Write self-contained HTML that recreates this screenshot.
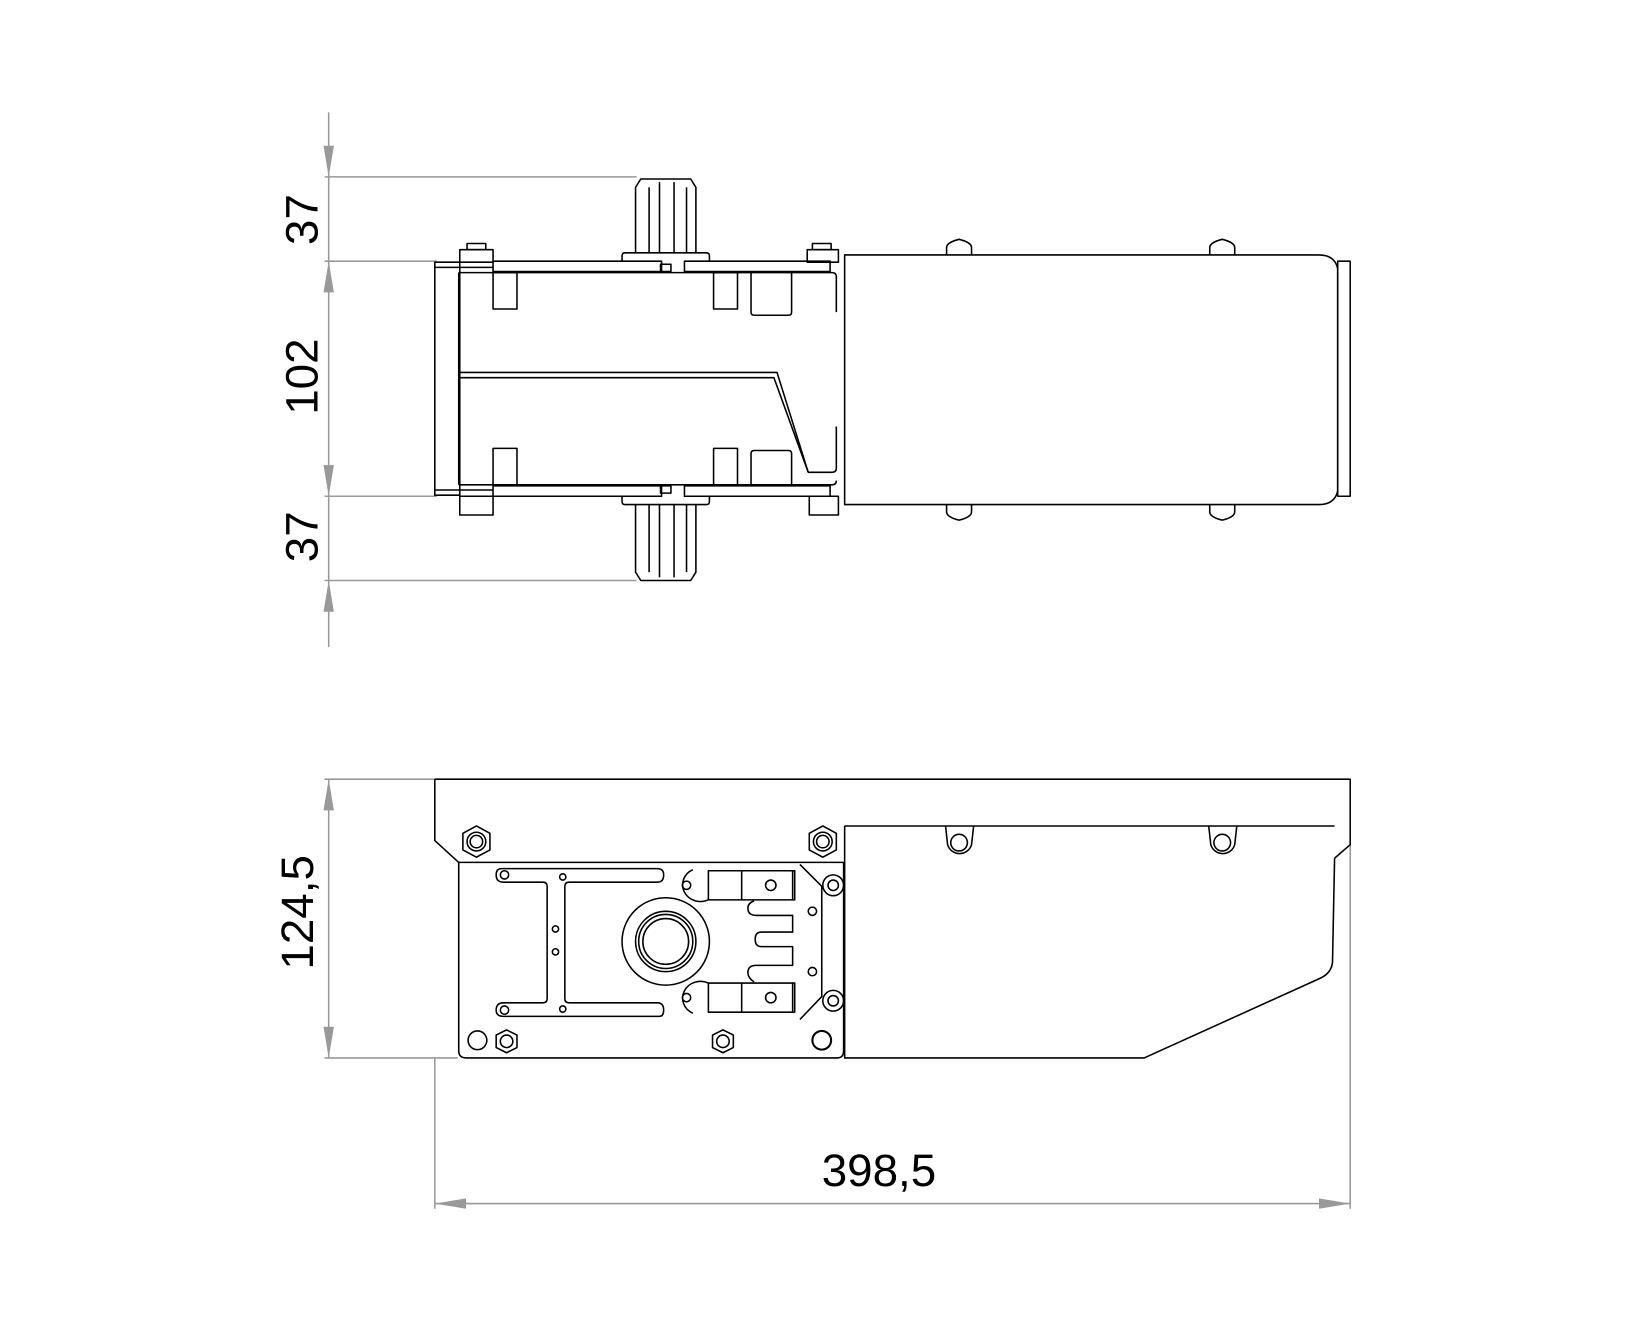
<!DOCTYPE html>
<html><head><meta charset="utf-8"><style>html,body{margin:0;padding:0;background:#fff}svg{display:block}</style></head>
<body>
<svg width="1630" height="1342" viewBox="0 0 1567 1290" xmlns="http://www.w3.org/2000/svg">
<rect width="1567" height="1290" fill="#fff"/>
<!-- DIMENSIONS -->
<g stroke="#999" stroke-width="1.5" fill="none">
  <line x1="316" y1="108" x2="316" y2="622"/>
  <line x1="312" y1="170" x2="612" y2="170"/>
  <line x1="312" y1="251" x2="420" y2="251"/>
  <line x1="312" y1="477" x2="420" y2="477"/>
  <line x1="312" y1="558" x2="612" y2="558"/>
  <line x1="316" y1="749" x2="316" y2="1017"/>
  <line x1="312" y1="749" x2="418" y2="749"/>
  <line x1="312" y1="1017" x2="440" y2="1017"/>
  <line x1="418" y1="1017" x2="418" y2="1162"/>
  <line x1="1298" y1="812" x2="1298" y2="1162"/>
  <line x1="418" y1="1157" x2="1298" y2="1157"/>
</g>
<g fill="#999">
  <polygon points="316,170 311,140 321,140"/>
  <polygon points="316,251 311,281 321,281"/>
  <polygon points="316,477 311,447 321,447"/>
  <polygon points="316,558 311,588 321,588"/>
  <polygon points="316,749 311,779 321,779"/>
  <polygon points="316,1017 311,987 321,987"/>
  <polygon points="418,1157 448,1152 448,1162"/>
  <polygon points="1298,1157 1268,1152 1268,1162"/>
</g>
<g font-family="Liberation Sans, sans-serif" font-size="44" fill="#000" text-anchor="middle">
  <text transform="translate(305,211) rotate(-90)">37</text>
  <text transform="translate(305,362) rotate(-90)">102</text>
  <text transform="translate(305,516) rotate(-90)">37</text>
  <text transform="translate(301,877) rotate(-90)">124,5</text>
  <text x="845" y="1140">398,5</text>
</g>

<!-- TOP VIEW -->
<g stroke="#000" stroke-width="1.5" fill="none" stroke-linejoin="round">
  <rect x="418" y="252" width="24" height="224"/>
  <line x1="418" y1="257" x2="474" y2="257"/>
  <line x1="418" y1="471" x2="474" y2="471"/>
  <path d="M441,262 L800,262 Q804,262 804,266 V300"/>
  <path d="M804,410 V450 Q804,454 800,454 H777 L747,358 H441"/>
  <path d="M441,363 H744 L777,454"/>
  <path d="M441,466 H800 Q804,466 804,462"/>
  <line x1="441" y1="262" x2="441" y2="466"/>
  <rect x="474" y="251" width="162" height="10"/>
  <rect x="658" y="251" width="140" height="10"/>
  <rect x="474" y="467" width="162" height="10"/>
  <rect x="658" y="467" width="140" height="10"/>
  <rect x="474" y="262" width="23" height="35"/>
  <rect x="686" y="262" width="23" height="35"/>
  <path d="M722,262 V300 Q722,303 725,303 H758 Q761,303 761,300 V262"/>
  <rect x="474" y="431" width="23" height="35"/>
  <rect x="686" y="431" width="23" height="35"/>
  <path d="M722,466 V436 Q722,433 725,433 H758 Q761,433 761,436 V466"/>
  <path d="M598,251 V246 Q598,243 601,243 H679 Q682,243 682,246 V251"/>
  <path d="M611,243 V180 L616,172 H664 L669,180 V243"/>
  <line x1="624" y1="243" x2="624" y2="180"/><line x1="634" y1="243" x2="634" y2="175"/>
  <line x1="648" y1="243" x2="648" y2="175"/><line x1="660" y1="243" x2="660" y2="180"/>
  <path d="M598,477 V482 Q598,485 601,485 H679 Q682,485 682,482 V477"/>
  <path d="M611,485 V550 L616,558 H664 L669,550 V485"/>
  <line x1="624" y1="485" x2="624" y2="550"/><line x1="634" y1="485" x2="634" y2="555"/>
  <line x1="648" y1="485" x2="648" y2="555"/><line x1="660" y1="485" x2="660" y2="550"/>
  <rect x="635" y="254" width="10" height="7"/><rect x="635" y="467" width="10" height="7"/>
  <rect x="442" y="240" width="32" height="12"/><rect x="449" y="234" width="18" height="6"/>
  <rect x="442" y="477" width="32" height="18"/>
  <rect x="776" y="240" width="30" height="12"/><rect x="781" y="234" width="18" height="6"/>
  <rect x="778" y="477" width="28" height="18"/>
  <path d="M812,245 H1268 Q1283,245 1286,258 V472 Q1283,485 1268,485 H812 Z"/>
  <rect x="1286" y="251" width="12" height="226"/>
  <path d="M910,245 V238 Q910,233 922,230 Q934,233 934,238 V245"/>
  <path d="M1163,245 V238 Q1163,233 1175,230 Q1187,233 1187,238 V245"/>
  <path d="M910,485 V492 Q910,497 922,500 Q934,497 934,492 V485"/>
  <path d="M1163,485 V492 Q1163,497 1175,500 Q1187,497 1187,492 V485"/>
</g>

<!-- SIDE VIEW -->
<g stroke="#000" stroke-width="1.5" fill="none" stroke-linejoin="round">
  <path d="M418,749 H1298 V812 L1283,825"/>
  <path d="M418,749 V808 L441,829 V1010 Q441,1017 448,1017 H805 Q811,1017 811,1010 V829"/>
  <line x1="441" y1="829" x2="811" y2="829"/>
  <path d="M812,794 H1283 M1283,825 L1281,925 Q1280,935 1270,940 L1100,1017 H812 V794"/>
  <path d="M909,794 L911,812 A12,12 0 0 0 934,812 L936,794"/><circle cx="922" cy="810" r="8"/>
  <path d="M1162,794 L1164,812 A12,12 0 0 0 1187,812 L1189,794"/><circle cx="1175" cy="810" r="8"/>
  <polygon points="458,794 471,801 471,817 458,824 445,817 445,801"/><circle cx="458" cy="809" r="9"/><circle cx="458" cy="809" r="6"/>
  <polygon points="791,794 804,801 804,817 791,824 778,817 778,801"/><circle cx="791" cy="809" r="9"/><circle cx="791" cy="809" r="6"/>
  <path d="M482,835 Q477,835 477,841 Q477,848 484,848 H522 Q526,848 526,852 V960 Q526,964 522,964 H484 Q477,964 477,971 Q477,977 484,977 H634 Q638,977 638,971 Q638,964 632,964 H547 Q543,964 543,960 V852 Q543,848 547,848 H632 Q638,848 638,841 Q638,835 632,835 Z"/>
  <circle cx="485" cy="841" r="4"/><circle cx="485" cy="971" r="4"/>
  <circle cx="541" cy="843" r="3"/><circle cx="541" cy="970" r="3"/>
  <circle cx="534" cy="893" r="3"/><circle cx="534" cy="915" r="3"/>
  <circle cx="640" cy="905" r="42"/><circle cx="640" cy="905" r="29"/><circle cx="640" cy="905" r="26"/><circle cx="640" cy="905" r="22"/>
  <rect x="681" y="837" width="83" height="28"/><line x1="713" y1="837" x2="713" y2="865"/><line x1="762" y1="837" x2="762" y2="865"/>
  <rect x="681" y="945" width="83" height="28"/><line x1="713" y1="945" x2="713" y2="973"/><line x1="762" y1="945" x2="762" y2="973"/>
  <circle cx="741" cy="851" r="5"/><circle cx="741" cy="959" r="5"/>
  <path d="M666,836 A15,14 0 1 0 681,865" /><circle cx="660" cy="851" r="4"/>
  <path d="M666,974 A15,14 0 1 1 681,945"/><circle cx="660" cy="959" r="4"/>
  <path d="M725,866 Q719,868 719,873 Q719,880 727,880 H762 V896 H732 Q726,896 726,903 Q726,910 732,910 H762 V928 H727 Q719,928 719,935 Q719,940 725,944"/>
  <circle cx="781" cy="876" r="4"/><circle cx="781" cy="934" r="4"/>
  <path d="M769,831 L790,852 V958 L769,980"/>
  <circle cx="801" cy="851" r="10"/><circle cx="801" cy="851" r="5"/>
  <circle cx="801" cy="962" r="10"/><circle cx="801" cy="962" r="5"/>
  <circle cx="790" cy="1000" r="9" stroke-width="2"/>
  <circle cx="459" cy="1000" r="9"/>
  <polygon points="487,990 497,995 497,1007 487,1012 477,1007 477,995"/><circle cx="487" cy="1001" r="6"/>
  <polygon points="695,990 705,995 705,1007 695,1012 685,1007 685,995"/><circle cx="695" cy="1001" r="6"/>
</g>
</svg>
</body></html>
